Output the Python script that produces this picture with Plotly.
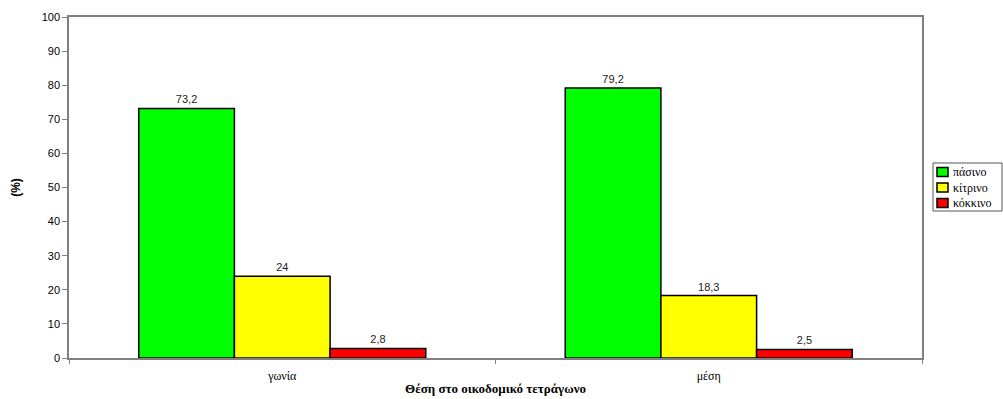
import plotly.graph_objects as go

categories = ["γωνία", "μέση"]
series_names = ["πάσινο", "κίτρινο", "κόκκινο"]
green_vals = [73.2, 79.2]
yellow_vals = [24, 18.3]
red_vals = [2.8, 2.5]
colors = ["#00FF00", "#FFFF00", "#FF0000"]
y_ticks = list(range(0, 101, 10))

W, H = 1003, 399
ML, MR, MT, MB = 69, 81, 17, 41
PW, PH = W - ML - MR, H - MT - MB

def fmt(v):
    return ("%g" % v).replace(".", ",")

def px(x):
    return (x - ML) / PW

def py(y):
    return (H - MB - y) / PH

fig = go.Figure()
for name, vals, col in zip(series_names, [green_vals, yellow_vals, red_vals], colors):
    fig.add_trace(go.Bar(
        x=categories, y=vals, name=name, showlegend=False,
        marker=dict(color=col, line=dict(color="black", width=1.5)),
        text=[fmt(v) for v in vals], textposition="outside",
        textfont=dict(family="Liberation Sans, Arial", size=11, color="#222"),
        cliponaxis=False,
    ))

# custom legend (box, swatches, labels)
fig.add_shape(type="rect", xref="paper", yref="paper",
              x0=px(933), x1=px(1002), y0=py(211), y1=py(163),
              line=dict(color="#555", width=1), fillcolor="white", layer="above")
for i, (name, col) in enumerate(zip(series_names, colors)):
    cy = 172 + i * 15.5
    fig.add_shape(type="rect", xref="paper", yref="paper",
                  x0=px(937), x1=px(948), y0=py(cy + 4.5), y1=py(cy - 4.5),
                  line=dict(color="black", width=1.5), fillcolor=col, layer="above")
    fig.add_annotation(xref="paper", yref="paper", x=px(951), y=py(cy),
                       xanchor="left", yanchor="middle", showarrow=False,
                       text=name,
                       font=dict(family="Liberation Serif, Times New Roman", size=12, color="black"))

fig.update_layout(
    width=W, height=H,
    margin=dict(l=ML, r=MR, t=MT, b=MB, autoexpand=False),
    paper_bgcolor="white", plot_bgcolor="white",
    barmode="group", bargap=0.327, bargroupgap=0,
    showlegend=False,
    xaxis=dict(
        showline=True, linecolor="#808080", linewidth=1.5, mirror=True,
        ticks="outside", tickson="boundaries", ticklen=4, tickcolor="#808080",
        ticklabelstandoff=6,
        tickfont=dict(family="Liberation Serif, Times New Roman", size=12, color="black"),
        title=dict(text="<b>Θέση στο οικοδομικό τετράγωνο</b>",
                   font=dict(family="Liberation Serif, Times New Roman", size=13, color="black"),
                   standoff=2),
        showgrid=False,
    ),
    yaxis=dict(
        range=[0, 100], tickvals=y_ticks,
        showline=True, linecolor="#808080", linewidth=1.5, mirror=True,
        ticks="outside", ticklen=5, tickcolor="#808080",
        tickfont=dict(family="Liberation Sans, Arial", size=11, color="black"),
        title=dict(text="<b>(%)</b>", font=dict(family="Liberation Sans, Arial", size=12, color="black"),
                   standoff=18),
        showgrid=False, zeroline=False,
    ),
)

fig.write_html("out.html")
